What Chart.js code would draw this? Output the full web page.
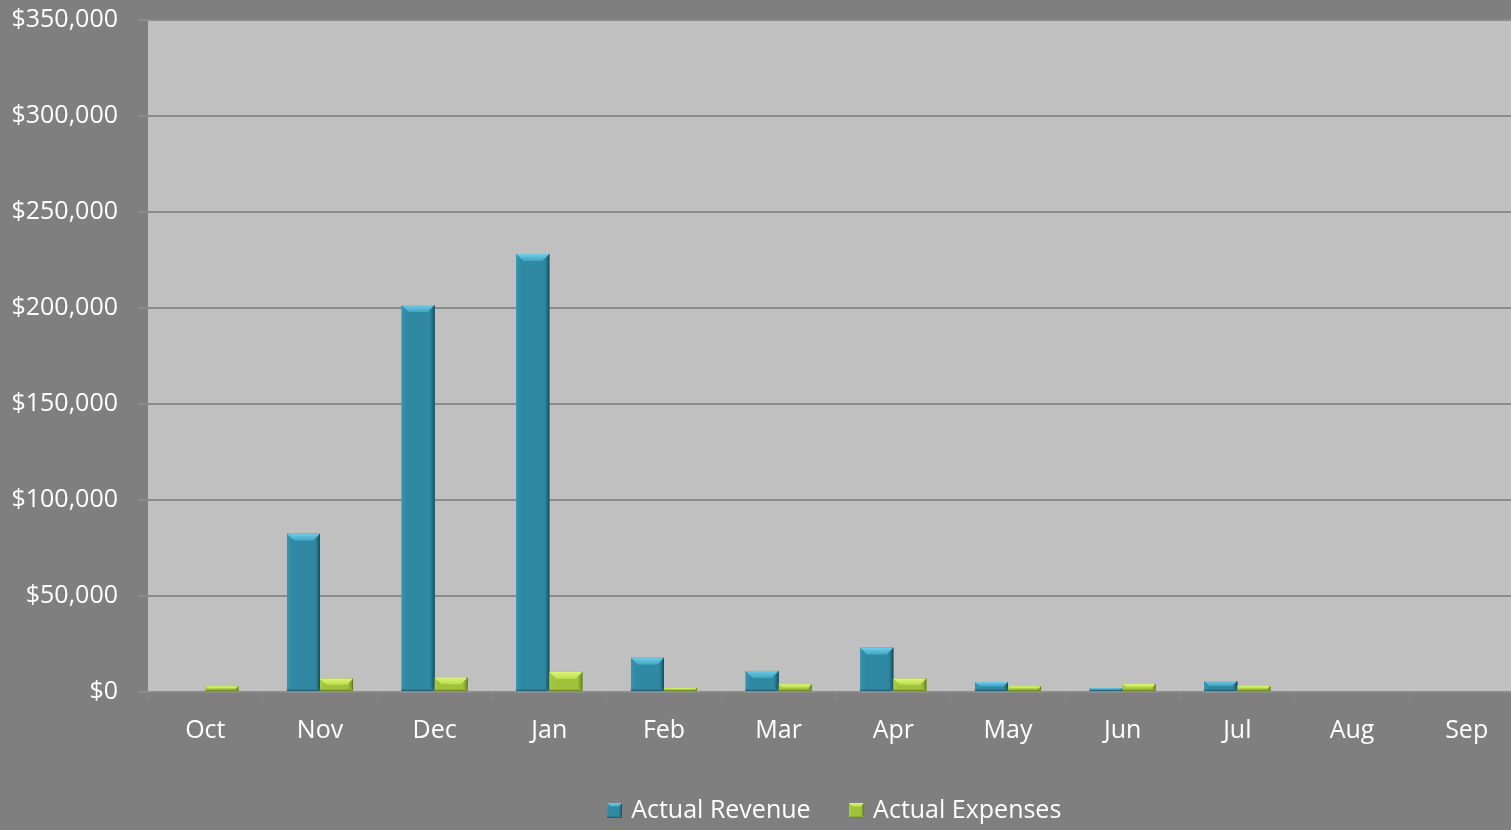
<!DOCTYPE html>
<html>
<head>
<meta charset="utf-8">
<script src="https://cdn.jsdelivr.net/npm/chart.js@4/dist/chart.umd.min.js"></script>
<style>
  html, body { margin: 0; padding: 0; background: #7f7f7f; overflow: hidden; }
  #wrap { width: 1524px; height: 830px; position: relative; }
</style>
</head>
<body>
<div id="wrap"><canvas id="chart"></canvas></div>
<script>
// Monthly actuals for the fiscal year (Oct – Sep)
const months = ['Oct', 'Nov', 'Dec', 'Jan', 'Feb', 'Mar', 'Apr', 'May', 'Jun', 'Jul', 'Aug', 'Sep'];
const actualRevenue  = [null, 82400, 201500, 228100, 17800, 11000, 23000, 5200, 1900, 5700, null, null];
const actualExpenses = [3000, 6950, 7500, 10450, 2200, 4000, 6950, 3000, 4200, 3100, null, null];
const yTickLabels = ['$0', '$50,000', '$100,000', '$150,000', '$200,000', '$250,000', '$300,000', '$350,000'];

const FONT = { family: '"Open Sans", "Noto Sans", sans-serif', size: 25 };

// Bevel palettes for the two series
const tealBevel  = { body: '#2f89a3', edgeL: '#3795af', edgeR: '#1f6477', top: '#6fcdeb', topLo: '#3fa3c0', bottom: '#297c93' };
const greenBevel = { body: '#a0c23a', edgeL: '#aacc44', edgeR: '#7c9a2c', top: '#dcf778', topLo: '#b9db4c', bottom: '#92b232' };

// Draws a bevelled rectangle (top highlight, shaded sides) in the given box
function drawBevel(ctx, l, t, w, h, pal) {
  const r = l + w, b = t + h;
  const bv = Math.max(0, Math.min(7, h / 2, w / 4));
  const side = Math.min(3, w / 6);
  const g = ctx.createLinearGradient(l, 0, r, 0);
  g.addColorStop(0, pal.edgeL);
  g.addColorStop(0.15, pal.body);
  g.addColorStop(0.85, pal.body);
  g.addColorStop(1, pal.edgeR);
  ctx.fillStyle = g;
  ctx.fillRect(l, t, w, h);
  // right face
  ctx.fillStyle = pal.edgeR;
  ctx.globalAlpha = 0.6;
  ctx.fillRect(r - side, t, side, h);
  ctx.globalAlpha = 1;
  // bottom face
  const bb = Math.min(2, h / 4);
  ctx.fillStyle = pal.bottom;
  ctx.fillRect(l, b - bb, w, bb);
  // top face
  const tg = ctx.createLinearGradient(0, t, 0, t + bv);
  tg.addColorStop(0, pal.top);
  tg.addColorStop(1, pal.topLo);
  ctx.beginPath();
  ctx.moveTo(l, t); ctx.lineTo(r, t); ctx.lineTo(r - bv, t + bv); ctx.lineTo(l + bv, t + bv); ctx.closePath();
  ctx.fillStyle = tg; ctx.fill();
  // thin dark outline on the right/bottom
  ctx.strokeStyle = 'rgba(0,0,0,0.22)';
  ctx.lineWidth = 1;
  ctx.beginPath();
  ctx.moveTo(r - 0.5, t); ctx.lineTo(r - 0.5, b - 0.5); ctx.lineTo(l, b - 0.5);
  ctx.stroke();
}

function legendIcon(pal) {
  const c = document.createElement('canvas');
  c.width = 15; c.height = 15;
  const x = c.getContext('2d');
  drawBevel(x, 0, 0, 15, 15, pal);
  return c;
}

// Light plot area behind the bars
const plotBackground = {
  id: 'plotBackground',
  beforeDraw(chart) {
    const { ctx, chartArea: a } = chart;
    ctx.save();
    ctx.fillStyle = '#c0c0c0';
    ctx.fillRect(a.left, a.top, a.right - a.left, a.bottom - a.top);
    ctx.restore();
  }
};

// Bevel shading painted over each bar element
const bevelBars = {
  id: 'bevelBars',
  afterDatasetsDraw(chart) {
    const ctx = chart.ctx;
    chart.data.datasets.forEach((ds, di) => {
      const meta = chart.getDatasetMeta(di);
      meta.data.forEach((bar, i) => {
        if (ds.data[i] == null) return;
        const { x, y, base, width } = bar.getProps(['x', 'y', 'base', 'width'], true);
        const h = base - y;
        if (!(h > 0.5)) return;
        ctx.save();
        drawBevel(ctx, x - width / 2, y, width, h, ds.bevel);
        ctx.restore();
      });
    });
  }
};

const icons = [legendIcon(tealBevel), legendIcon(greenBevel)];

new Chart(document.getElementById('chart'), {
  type: 'bar',
  data: {
    labels: months,
    datasets: [
      { label: 'Actual Revenue', data: actualRevenue, backgroundColor: tealBevel.body, bevel: tealBevel },
      { label: 'Actual Expenses', data: actualExpenses, backgroundColor: greenBevel.body, bevel: greenBevel }
    ]
  },
  options: {
    responsive: true,
    maintainAspectRatio: false,
    animation: false,
    layout: { padding: { top: 20, left: 0, right: 0, bottom: -3 } },
    datasets: { bar: { categoryPercentage: 0.576, barPercentage: 1 } },
    scales: {
      x: {
        offset: true,
        grid: { display: true, drawOnChartArea: false, drawTicks: true, tickLength: 8, color: '#8a8a8a', offset: true },
        border: { display: false },
        ticks: { color: '#ffffff', font: FONT, padding: 16, maxRotation: 0, autoSkip: false },
        afterFit(s) { s.height = 64; }
      },
      y: {
        min: 0,
        max: 350000,
        ticks: {
          stepSize: 50000,
          color: '#ffffff',
          font: FONT,
          padding: 20,
          callback: (v, i) => yTickLabels[i]
        },
        grid: { color: '#8c8c8c', lineWidth: 2, tickLength: 10 },
        border: { display: false },
        afterFit(s) { s.width = 148; s.paddingTop = 0; s.paddingBottom = 0; }
      }
    },
    plugins: {
      tooltip: { enabled: false },
      legend: {
        position: 'bottom',
        fullSize: false,
        labels: {
          color: '#ffffff',
          font: FONT,
          usePointStyle: true,
          boxWidth: 8,
          padding: 42,
          generateLabels(chart) {
            return chart.data.datasets.map((ds, i) => ({
              text: ds.label,
              pointStyle: icons[i],
              fillStyle: ds.backgroundColor,
              strokeStyle: ds.backgroundColor,
              lineWidth: 0,
              hidden: false,
              datasetIndex: i,
              fontColor: '#ffffff'
            }));
          }
        }
      }
    }
  },
  plugins: [plotBackground, bevelBars]
});
</script>
</body>
</html>
